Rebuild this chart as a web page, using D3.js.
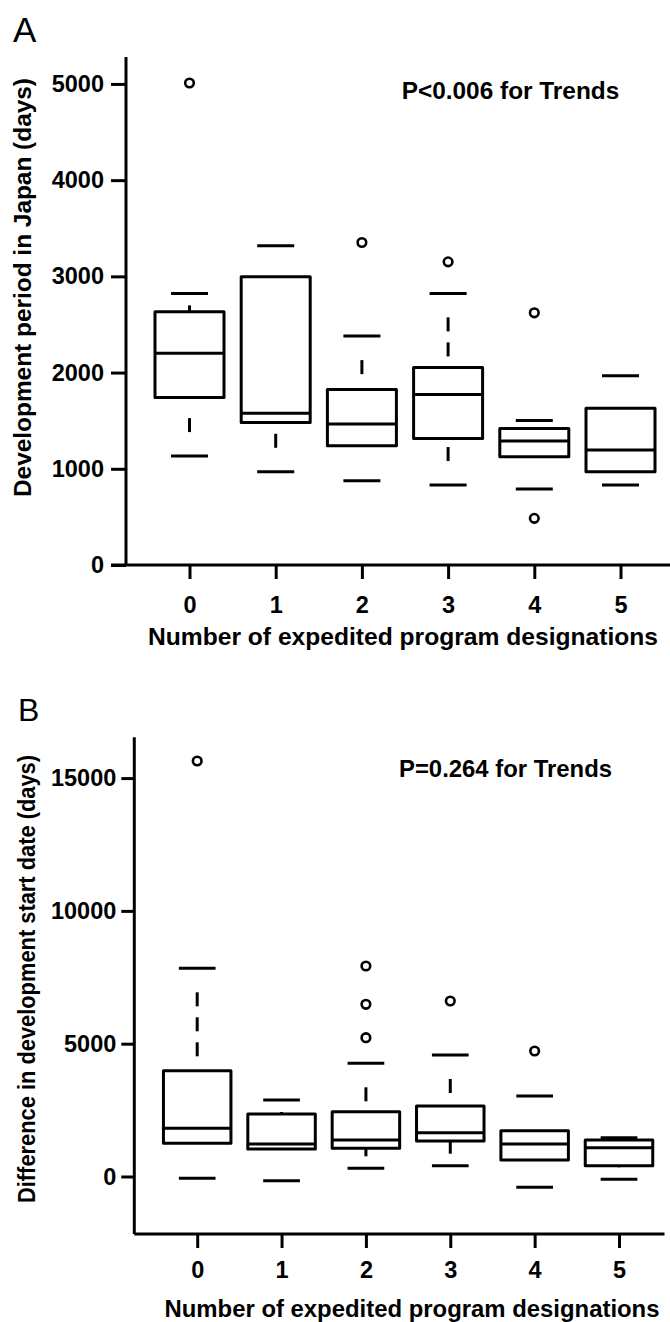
<!DOCTYPE html>
<html>
<head>
<meta charset="utf-8">
<script src="https://cdn.jsdelivr.net/npm/d3@7"></script>
<style>
  html, body { margin: 0; padding: 0; background: #fff; }
  svg { display: block; }
  text { font-family: "Liberation Sans", Arial, Helvetica, sans-serif; fill: #000; }
</style>
</head>
<body>
<svg id="fig" width="670" height="1322"></svg>
<script>
// ---- categories ----
const groups = ["0", "1", "2", "3", "4", "5"];

// ---- Panel A: development period in Japan (days) ----
const periodLowWhisker  = [1132,  969,  876,  831,  790,  831];
const periodQ1          = [1742, 1482, 1239, 1316, 1125,  969];
const periodMedian      = [2202, 1576, 1465, 1773, 1288, 1195];
const periodQ3          = [2631, 2995, 1825, 2054, 1420, 1628];
const periodHighWhisker = [2823, 3317, 2379, 2823, 1503, 1967];
const periodOutliers    = [[5010], [], [3352], [3151], [2621, 485], []];
const periodTicks       = [0, 1000, 2000, 3000, 4000, 5000];

// ---- Panel B: difference in development start date (days) ----
const startLowWhisker  = [ -68, -158,  309,  407, -407, -105];
const startQ1          = [1250, 1035, 1062, 1337,  621,  407];
const startMedian      = [1815, 1224, 1374, 1649, 1224, 1084];
const startQ3          = [3983, 2353, 2440, 2654, 1724, 1374];
const startHighWhisker = [7839, 2880, 4262, 4575, 3031, 1461];
const startOutliers    = [[15644], [], [7925, 6483, 5226], [6608], [4725], []];
const startTicks       = [0, 5000, 10000, 15000];

const svg = d3.select("#fig");
const STROKE = 3;

// Whisker drawn as a dashed segment: whole dashes only, the first one a
// long gap away from the staple; very short whiskers keep a stub at the box.
function whiskerDashes(capY, boxY) {
  const dir = boxY > capY ? 1 : -1;
  const L = Math.abs(boxY - capY);
  const segs = [];
  const first = 24, dash = 14, step = 25, margin = 8;
  for (let s = first; s + dash <= L - margin; s += step) {
    segs.push([capY + dir * s, capY + dir * (s + dash)]);
  }
  if (L > 12 && L < 26) segs.push([boxY - dir * (L - 12), boxY]);
  return segs;
}

function drawPanel(p) {
  const g = svg.append("g");
  const x = d3.scalePoint().domain(groups).range(p.xRange);
  const y = d3.scaleLinear().domain(p.yDomain).range(p.yRange);

  // panel letter
  g.append("text").attr("x", p.letterPos[0]).attr("y", p.letterPos[1])
    .style("font-size", p.letterSize + "px").text(p.letter);

  // axis lines
  g.append("line").attr("x1", p.axisX).attr("x2", p.axisX)
    .attr("y1", p.yRange[1]).attr("y2", p.yRange[0])
    .attr("stroke", "#000").attr("stroke-width", STROKE);
  g.append("line").attr("x1", p.xAxisFrom).attr("x2", p.xAxisTo)
    .attr("y1", p.yRange[0]).attr("y2", p.yRange[0])
    .attr("stroke", "#000").attr("stroke-width", STROKE);

  // y axis ticks
  const ya = g.append("g").attr("transform", `translate(${p.axisX},0)`)
    .call(d3.axisLeft(y).tickValues(p.ticks).tickFormat(d3.format("d"))
      .tickSize(p.yTickLen).tickSizeOuter(0).tickPadding(p.yTickPad));
  ya.select(".domain").remove();
  ya.selectAll(".tick line").attr("stroke", "#000").attr("stroke-width", STROKE);
  ya.selectAll(".tick text").attr("fill", "#000")
    .style("font-size", "23.5px").style("font-weight", "bold")
    .style("font-family", "'Liberation Sans', Arial, sans-serif");

  // x axis ticks
  const xa = g.append("g").attr("transform", `translate(0,${p.yRange[0]})`)
    .call(d3.axisBottom(x).tickSize(14).tickSizeOuter(0).tickPadding(p.xTickPad));
  xa.select(".domain").remove();
  xa.selectAll(".tick line").attr("stroke", "#000").attr("stroke-width", STROKE);
  xa.selectAll(".tick text").attr("fill", "#000")
    .style("font-size", "23.5px").style("font-weight", "bold")
    .style("font-family", "'Liberation Sans', Arial, sans-serif");

  // boxes
  const rows = groups.map((k, i) => ({
    k, lo: p.lo[i], q1: p.q1[i], med: p.med[i], q3: p.q3[i], hi: p.hi[i], out: p.out[i]
  }));
  const bx = g.append("g").attr("stroke", "#000").attr("stroke-width", STROKE).attr("fill", "none");

  rows.forEach(r => {
    const cx = x(r.k);
    // whiskers
    [[y(r.hi), y(r.q3)], [y(r.lo), y(r.q1)]].forEach(([cap, box]) => {
      whiskerDashes(cap, box).forEach(([a, b]) => {
        bx.append("line").attr("x1", cx).attr("x2", cx).attr("y1", a).attr("y2", b);
      });
    });
    // staples
    [r.hi, r.lo].forEach(v => {
      bx.append("line").attr("x1", cx - p.capW / 2).attr("x2", cx + p.capW / 2)
        .attr("y1", y(v)).attr("y2", y(v));
    });
    // box and median
    bx.append("rect").attr("x", cx - p.boxW / 2).attr("width", p.boxW)
      .attr("y", y(r.q3)).attr("height", y(r.q1) - y(r.q3))
      .attr("stroke-linejoin", "round");
    bx.append("line").attr("x1", cx - p.boxW / 2).attr("x2", cx + p.boxW / 2)
      .attr("y1", y(r.med)).attr("y2", y(r.med));
    // outliers
    r.out.forEach(v => {
      bx.append("circle").attr("cx", cx).attr("cy", y(v)).attr("r", 4.3)
        .attr("fill", "#fff").attr("stroke-width", 2.6);
    });
  });

  // trend annotation
  g.append("text").attr("x", p.note.x).attr("y", p.note.y)
    .attr("textLength", p.note.w).attr("lengthAdjust", "spacingAndGlyphs")
    .style("font-size", "24px").style("font-weight", "bold").text(p.note.text);

  // axis titles
  g.append("text").attr("x", p.xTitle.x).attr("y", p.xTitle.y)
    .attr("textLength", p.xTitle.w).attr("lengthAdjust", "spacingAndGlyphs")
    .style("font-size", "24px").style("font-weight", "bold").text(p.xTitle.text);
  g.append("text")
    .attr("transform", `translate(${p.yTitle.x},${p.yTitle.y}) rotate(-90)`)
    .attr("textLength", p.yTitle.w).attr("lengthAdjust", "spacingAndGlyphs")
    .style("font-size", p.yTitle.size + "px").style("font-weight", "bold").text(p.yTitle.text);
}

drawPanel({
  letter: "A", letterPos: [13, 41.5], letterSize: 35,
  yDomain: [0, 5280], yRange: [565, 57], ticks: periodTicks,
  xRange: [189.5, 620.5], axisX: 126, xAxisFrom: 111, xAxisTo: 670,
  yTickLen: 15, yTickPad: 7, xTickPad: 17,
  boxW: 69, capW: 37,
  lo: periodLowWhisker, q1: periodQ1, med: periodMedian, q3: periodQ3, hi: periodHighWhisker, out: periodOutliers,
  note: { text: "P<0.006 for Trends", x: 401.7, y: 99, w: 217.6 },
  xTitle: { text: "Number of expedited program designations", x: 148, y: 645, w: 510 },
  yTitle: { text: "Development period in Japan (days)", x: 31, y: 497, w: 419, size: 23.5 }
});

drawPanel({
  letter: "B", letterPos: [18, 720.7], letterSize: 32,
  yDomain: [-2165, 16536], yRange: [1234, 737.3], ticks: startTicks,
  xRange: [197.2, 619], axisX: 134.3, xAxisFrom: 134.3, xAxisTo: 664.5,
  yTickLen: 13, yTickPad: 5, xTickPad: 13,
  boxW: 67.5, capW: 36.7,
  lo: startLowWhisker, q1: startQ1, med: startMedian, q3: startQ3, hi: startHighWhisker, out: startOutliers,
  note: { text: "P=0.264 for Trends", x: 399, y: 776.7, w: 213 },
  xTitle: { text: "Number of expedited program designations", x: 164.5, y: 1316.7, w: 495 },
  yTitle: { text: "Difference in development start date (days)", x: 35, y: 1203, w: 448, size: 23 }
});
</script>
</body>
</html>
